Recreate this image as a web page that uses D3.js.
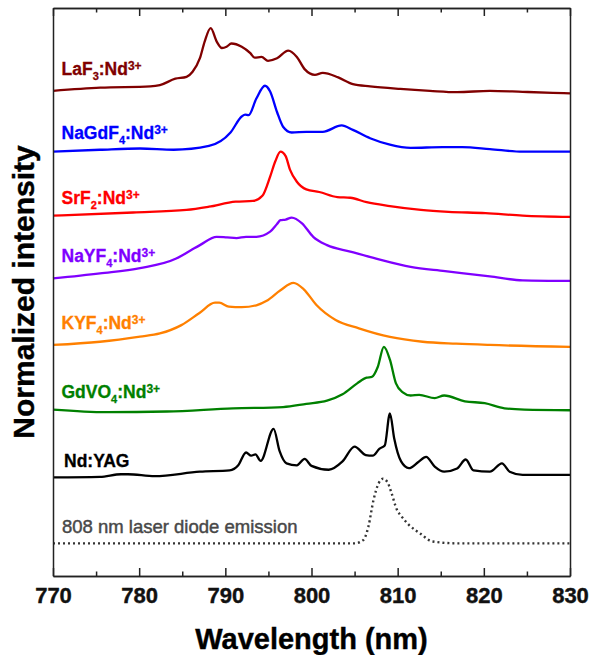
<!DOCTYPE html>
<html>
<head>
<meta charset="utf-8">
<script src="https://cdn.jsdelivr.net/npm/d3@7"></script>
<style>
  body { margin: 0; background: #fff; }
  text { font-family: "Liberation Sans", Arial, sans-serif; }
</style>
</head>
<body>
<svg id="chart" width="591" height="655"></svg>
<script>
// emission spectra, [wavelength nm, normalized intensity]
const laf3 = [[770,0.02],[775.5,0.07],[781.3,0.09],[782.4,0.11],[784.2,0.21],[785.5,0.24],[786.2,0.32],[787.05,0.53],[787.6,0.79],[788.3,1.0],[789.0,0.79],[789.6,0.69],[790.15,0.71],[790.7,0.76],[791.9,0.71],[792.9,0.61],[793.4,0.54],[794.2,0.55],[794.95,0.49],[796.0,0.53],[797.3,0.65],[798.3,0.55],[799.2,0.36],[800.4,0.27],[801.3,0.30],[803.1,0.23],[804.8,0.125],[806.8,0.09],[810.3,0.05],[813.75,0.02],[816.9,0.0],[820.7,0.02],[824.5,0.005],[828,-0.01],[830,-0.02]]
const nagdf4 = [[770,-0.01],[775.45,0.02],[780.1,0.04],[784,0.02],[788.1,0.08],[790.6,0.29],[791.9,0.54],[792.3,0.57],[792.7,0.56],[793.6,0.82],[794.6,1.02],[795.2,0.93],[796.0,0.61],[796.7,0.38],[797.7,0.29],[799.4,0.30],[801.3,0.30],[803.5,0.40],[804.8,0.33],[806.8,0.20],[809.1,0.10],[811.5,0.05],[815.2,0.06],[817.5,0.06],[820.7,0.03],[824.5,-0.01],[830,-0.01]]
const srf2 = [[770,0],[779.3,0.05],[785.5,0.09],[788.1,0.14],[791.2,0.22],[793.2,0.23],[794.3,0.31],[795.2,0.61],[795.8,0.85],[796.4,1.0],[797.0,0.93],[797.5,0.72],[798.3,0.53],[799.4,0.41],[800.9,0.37],[803.0,0.29],[804.5,0.28],[806.4,0.21],[809.1,0.15],[812.7,0.09],[815.9,0.06],[820.2,0.04],[824.5,0],[830,-0.02]]
const nayf4 = [[770,0.01],[775.45,0.09],[780.1,0.17],[784.3,0.32],[786.0,0.45],[787.05,0.53],[789.0,0.66],[790.2,0.65],[791.3,0.64],[792.4,0.66],[793.6,0.66],[795.2,0.74],[796.0,0.86],[796.4,0.92],[797.0,0.93],[797.7,0.96],[798.9,0.87],[800.2,0.66],[801.8,0.53],[804.5,0.43],[807.5,0.32],[811.5,0.19],[815.5,0.125],[820.7,0.04],[824.5,-0.02],[830,-0.03]]
const kyf4 = [[770,0.02],[775.45,0.07],[780.1,0.15],[782.4,0.20],[784.9,0.33],[787.0,0.52],[788.8,0.68],[789.3,0.68],[790.4,0.62],[791.9,0.61],[793.6,0.64],[794.8,0.71],[796.4,0.875],[797.9,0.99],[799.1,0.89],[800.6,0.64],[802.8,0.41],[805.5,0.28],[809.1,0.145],[812.9,0.07],[816.8,0.04],[820.7,0.02],[830,-0.01]]
const gdvo4 = [[770,0.01],[776.2,-0.03],[783.2,-0.02],[790.9,0.03],[796.7,0.05],[799.4,0.10],[801.8,0.15],[803.6,0.25],[805.3,0.42],[806.4,0.51],[807.0,0.52],[807.7,0.68],[808.4,0.99],[809.1,0.79],[809.8,0.42],[810.6,0.28],[811.5,0.23],[812.5,0.24],[814.3,0.19],[815.4,0.23],[817.8,0.14],[820.1,0.11],[822.4,0.03],[824.7,0.01],[830,0]]
const ndyag = [[770,-0.02],[775.45,-0.01],[777.9,0.03],[778.7,0.03],[781.8,0],[787.05,0.07],[790.5,0.09],[791.5,0.17],[792.4,0.37],[793.0,0.32],[793.5,0.34],[794.1,0.24],[795.6,0.74],[796.3,0.39],[797.1,0.20],[798.3,0.17],[799.2,0.27],[800.0,0.16],[802.0,0.10],[803.6,0.23],[805.0,0.46],[806.3,0.33],[807.1,0.32],[807.9,0.43],[808.5,0.48],[809.1,0.98],[809.6,0.59],[810.4,0.23],[811.3,0.125],[812.4,0.22],[813.3,0.30],[814.3,0.15],[815.4,0.07],[816.9,0.12],[817.9,0.26],[818.8,0.09],[820.7,0.07],[822.1,0.20],[823.0,0.07],[824.5,0.02],[830,0.02]]
const diode = [[770,0],[805.0,0],[806.0,0.05],[806.6,0.26],[807.2,0.68],[807.8,0.94],[808.3,1.01],[808.8,0.96],[809.3,0.78],[809.9,0.53],[810.4,0.43],[811.3,0.29],[812.7,0.145],[814.0,0.03],[816.9,0],[830,0]]

const spectra = [laf3, nagdf4, srf2, nayf4, kyf4, gdvo4, ndyag, diode]
const offsets = [7.56, 6.64, 5.63, 4.64, 3.59, 2.59, 1.56, 0.51]
const colors = ["#800000", "#0000ff", "#ff0000", "#8000ff", "#ff8000", "#008000", "#000000", "#333333"]
const hosts = ["LaF", "NaGdF", "SrF", "NaYF", "KYF", "GdVO"]
const hostSubs = ["3", "4", "2", "4", "4", "4"]
const xTicks = [770, 780, 790, 800, 810, 820, 830]
const xMinor = [775, 785, 795, 805, 815, 825]

const margin = {top: 8, right: 21, bottom: 79, left: 53}
const width = 591, height = 655

const svg = d3.select("#chart")

const x = d3.scaleLinear()
    .domain([770, 830])
    .range([margin.left, width - margin.right])

const y = d3.scaleLinear()
    .domain([0, 8.875])
    .range([height - margin.bottom, margin.top])

const line = d3.line()
    .x(d => x(d[0]))
    .y(d => y(d[1]))
    .curve(d3.curveMonotoneX)

// spectra
svg.append("g")
    .selectAll("path")
    .data(spectra)
    .join("path")
    .attr("fill", "none")
    .attr("stroke", (d, i) => colors[i])
    .attr("stroke-width", (d, i) => i == 7 ? 2.4 : 2.3)
    .attr("stroke-dasharray", (d, i) => i == 7 ? "2,3" : null)
    .attr("stroke-linejoin", "round")
    .attr("d", (d, i) => line(d.map(p => [p[0], p[1] + offsets[i]])))

// frame
const bottom = svg.append("g")
    .attr("transform", "translate(0," + y(0) + ")")
    .call(d3.axisBottom(x).tickValues(xTicks).tickSizeInner(-8).tickSizeOuter(0).tickPadding(11))
bottom.selectAll("text")
    .attr("font-size", 22)
    .attr("font-weight", "bold")
    .attr("font-family", "'Liberation Sans', Arial, sans-serif")
    .attr("fill", "#111")
    .attr("stroke", "#111")
    .attr("stroke-width", 0.4)

svg.append("g")
    .attr("transform", "translate(0," + y(0) + ")")
    .call(d3.axisBottom(x).tickValues(xMinor).tickSizeInner(-4.5).tickSizeOuter(0).tickFormat(""))

svg.append("g")
    .attr("transform", "translate(0," + y(8.875) + ")")
    .call(d3.axisTop(x).tickValues(xTicks).tickSizeInner(-8).tickSizeOuter(0).tickFormat(""))

svg.append("g")
    .attr("transform", "translate(0," + y(8.875) + ")")
    .call(d3.axisTop(x).tickValues(xMinor).tickSizeInner(-4.5).tickSizeOuter(0).tickFormat(""))

svg.append("g")
    .attr("transform", "translate(" + x(770) + ",0)")
    .call(d3.axisLeft(y).tickValues([]).tickSizeOuter(0))

svg.append("g")
    .attr("transform", "translate(" + x(830) + ",0)")
    .call(d3.axisRight(y).tickValues([]).tickSizeOuter(0))

svg.selectAll(".domain, .tick line")
    .attr("stroke", "#222")
    .attr("stroke-width", 1.5)

// labels for each spectrum
const labelLift = [17, 12, 12, 17, 17, 12]
hosts.forEach((h, i) => {
    const t = svg.append("text")
        .attr("x", x(770) + 8.5)
        .attr("y", y(offsets[i]) - labelLift[i])
        .attr("fill", colors[i])
        .attr("stroke", colors[i])
        .attr("stroke-width", 0.3)
        .attr("font-size", 17.5)
        .attr("font-weight", "bold")
    t.append("tspan").text(h)
    t.append("tspan").attr("font-size", 11).attr("dy", 5).text(hostSubs[i])
    t.append("tspan").attr("dy", -5).text(":Nd")
    t.append("tspan").attr("font-size", 12).attr("dy", -5).text("3+")
})

svg.append("text")
    .attr("x", x(770) + 11)
    .attr("y", y(offsets[6]) - 9.5)
    .attr("fill", "#000")
    .attr("stroke", "#000")
    .attr("stroke-width", 0.3)
    .attr("font-size", 17.5)
    .attr("font-weight", "bold")
    .text("Nd:YAG")

svg.append("text")
    .attr("x", x(770) + 9)
    .attr("y", y(offsets[7]) - 10)
    .attr("fill", "#484848")
    .attr("stroke", "#484848")
    .attr("stroke-width", 0.45)
    .attr("font-size", 18.5)
    .text("808 nm laser diode emission")

// axis titles
svg.append("text")
    .attr("x", (x(770) + x(830)) / 2)
    .attr("y", 649)
    .attr("text-anchor", "middle")
    .attr("font-size", 29)
    .attr("font-weight", "bold")
    .attr("stroke", "#000")
    .attr("stroke-width", 0.4)
    .text("Wavelength (nm)")

svg.append("text")
    .attr("transform", "translate(33.5," + (y(0) + y(8.875)) / 2 + ") rotate(-90)")
    .attr("text-anchor", "middle")
    .attr("font-size", 30)
    .attr("font-weight", "bold")
    .attr("stroke", "#000")
    .attr("stroke-width", 0.4)
    .text("Normalized intensity")
</script>
</body>
</html>
